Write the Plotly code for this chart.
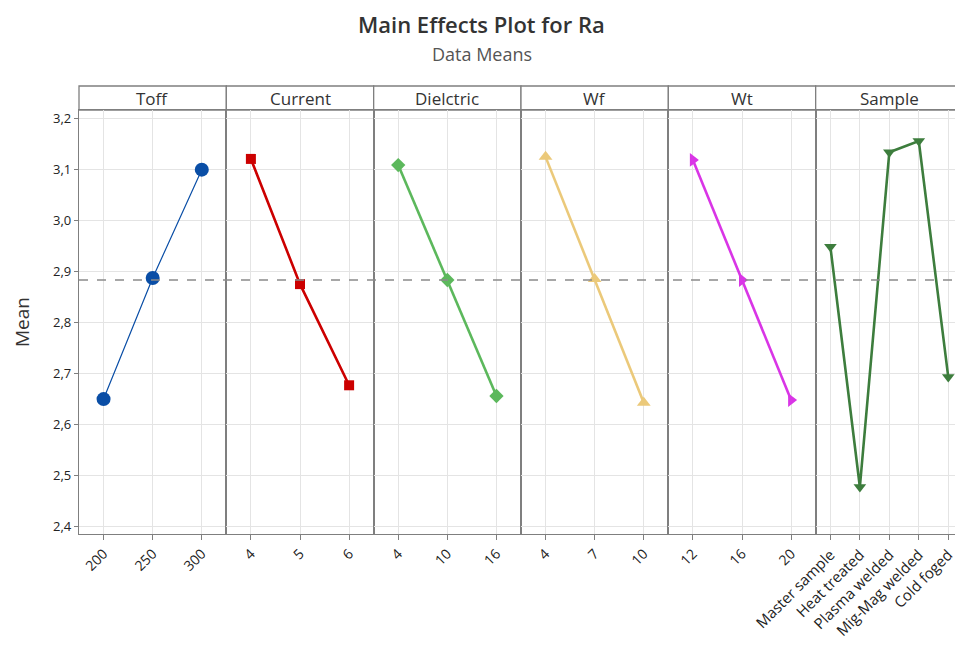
import plotly.graph_objects as go

# ---- data ----
factors = ["Toff", "Current", "Dielctric", "Wf", "Wt", "Sample"]
toff_levels = ["200", "250", "300"]
toff_means = [2.650, 2.887, 3.099]
current_levels = ["4", "5", "6"]
current_means = [3.120, 2.875, 2.677]
dielectric_levels = ["4", "10", "16"]
dielectric_means = [3.108, 2.883, 2.656]
wf_levels = ["4", "7", "10"]
wf_means = [3.124, 2.885, 2.643]
wt_levels = ["12", "16", "20"]
wt_means = [3.118, 2.883, 2.648]
sample_levels = ["Master sample", "Heat treated", "Plasma welded", "Mig-Mag welded", "Cold foged"]
sample_means = [2.948, 2.478, 3.133, 3.155, 2.693]
grand_mean = 2.883
y_ticks = [2.4, 2.5, 2.6, 2.7, 2.8, 2.9, 3.0, 3.1, 3.2]

levels = [toff_levels, current_levels, dielectric_levels, wf_levels, wt_levels, sample_levels]
means = [toff_means, current_means, dielectric_means, wf_means, wt_means, sample_means]

colors = ["#0a4ea6", "#cc0000", "#5cb85c", "#ebc97a", "#d935e6", "#3d7d3d"]
symbols = ["circle", "square", "diamond", "triangle-up", "triangle-right", "triangle-down"]
msizes = [14, 10, 11, 12, 12, 11]
lwidths = [1.2, 2.6, 2.6, 2.6, 2.6, 2.6]
tfsizes = [14, 14, 14, 14, 14, 15]

# page has an 8px body margin; compensate
OFF = 8
W, H = 963 - OFF, 654 - OFF
ml, mr, mt, mb = 79 - OFF, 0, 86 - OFF, 120
plot_h = H - mt - mb
plot_w = W - ml - mr
header_px = 24
ytop = 1 - header_px / plot_h

fig = go.Figure()
n = len(factors)
grid = "#e4e4e4"
border = "#7f7f7f"
layout = {}
for i in range(n):
    xa = "x" if i == 0 else f"x{i+1}"
    ya = "y" if i == 0 else f"y{i+1}"
    fig.add_trace(go.Scatter(
        x=levels[i], y=means[i], xaxis=xa, yaxis=ya, mode="lines+markers",
        line=dict(color=colors[i], width=lwidths[i]),
        marker=dict(symbol=symbols[i], size=msizes[i], color=colors[i]),
        cliponaxis=False, showlegend=False, hoverinfo="x+y"))
    d0, d1 = i / n, (i + 1) / n
    nl = len(levels[i])
    layout["xaxis" if i == 0 else f"xaxis{i+1}"] = dict(
        domain=[d0, d1], anchor=ya, type="category", automargin=False,
        range=[-0.5, nl - 0.5], showgrid=True, gridcolor=grid, gridwidth=1,
        showline=True, linecolor=border, linewidth=1.3, mirror=True,
        ticks="outside", ticklen=5, tickcolor=border,
        tickangle=-45, tickfont=dict(size=tfsizes[i], color="#222"), zeroline=False)
    layout["yaxis" if i == 0 else f"yaxis{i+1}"] = dict(
        domain=[0, ytop], anchor=xa, range=[2.386, 3.2157], automargin=False,
        tickvals=y_ticks, tickformat=".1f",
        showgrid=True, gridcolor=grid, gridwidth=1,
        showline=True, linecolor=border, linewidth=1.3, mirror=True,
        ticks="outside" if i == 0 else "", ticklen=4, tickcolor=border,
        showticklabels=(i == 0), tickfont=dict(size=13, color="#222"),
        zeroline=False,
        title=dict(text="Mean", font=dict(size=19, color="#333"), standoff=18) if i == 0 else None,
        **({} if i == 0 else {"matches": "y"}))
    fig.add_shape(type="rect", xref="paper", yref="paper", x0=d0, x1=d1, y0=ytop, y1=1,
                  line=dict(color=border, width=1.3), fillcolor="white", layer="below")
    fig.add_annotation(text=factors[i], xref="paper", yref="paper", x=(d0 + d1) / 2,
                       y=(ytop + 1) / 2, showarrow=False, xanchor="center", yanchor="middle",
                       font=dict(size=17, color="#333"))

fig.add_shape(type="line", xref="paper", yref="y", x0=0, x1=1, y0=grand_mean, y1=grand_mean,
              line=dict(color="#8a8a8a", width=1.3, dash="dash"), layer="above")

cx = (963 / 2 - 79) / plot_w
fig.add_annotation(text="Main Effects Plot for Ra", xref="paper", yref="paper",
                   x=cx, y=1 + (86 - 24) / plot_h, showarrow=False,
                   xanchor="center", yanchor="middle",
                   font=dict(size=22, color="#333", weight=600))
fig.add_annotation(text="Data Means", xref="paper", yref="paper",
                   x=cx, y=1 + (86 - 54) / plot_h, showarrow=False,
                   xanchor="center", yanchor="middle", font=dict(size=18, color="#555"))

fig.update_layout(**layout)
fig.update_layout(
    width=W, height=H, margin=dict(l=ml, r=mr, t=mt, b=mb),
    paper_bgcolor="white", plot_bgcolor="white",
    separators=",.",
    font=dict(family="Open Sans, Noto Sans, sans-serif", color="#222"),
)
fig.write_html("out.html")
